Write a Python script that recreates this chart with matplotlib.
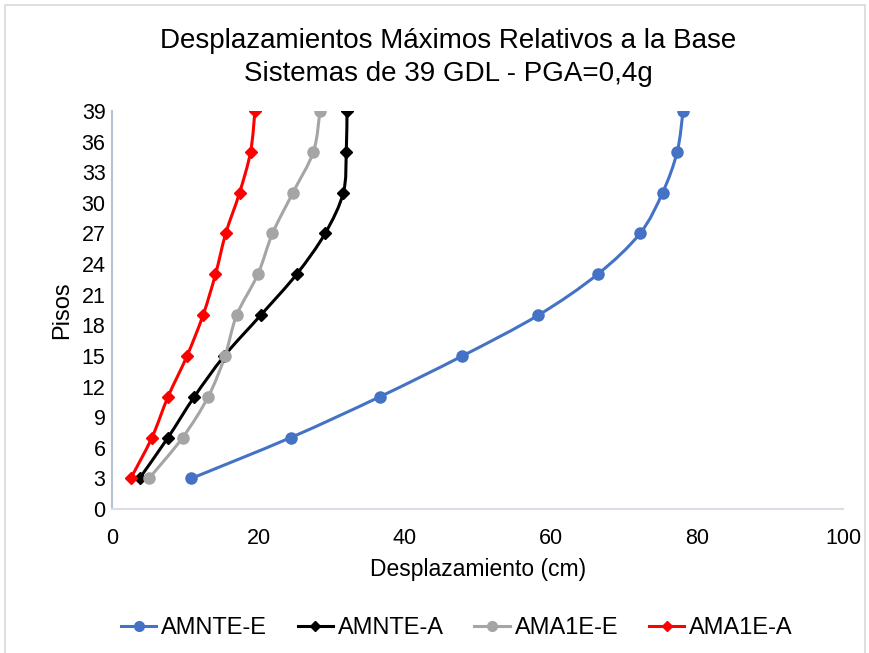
import matplotlib
matplotlib.use("Agg")
import matplotlib.pyplot as plt
from matplotlib.path import Path
from matplotlib.patches import PathPatch, Rectangle
from matplotlib.lines import Line2D

plt.rcParams['font.family'] = ['Liberation Sans', 'DejaVu Sans']

# datos
pisos = [3, 7, 11, 15, 19, 23, 27, 31, 35, 39]
amnte_e = [10.8, 24.4, 36.6, 47.9, 58.3, 66.4, 72.2, 75.3, 77.3, 78.1]
amnte_a = [3.7, 7.6, 11.2, 15.3, 20.3, 25.2, 29.1, 31.6, 32.0, 32.1]
ama1e_e = [5.0, 9.6, 13.1, 15.4, 17.0, 19.9, 21.9, 24.7, 27.5, 28.4]
ama1e_a = [2.5, 5.4, 7.6, 10.2, 12.4, 14.1, 15.5, 17.4, 18.9, 19.5]

nombres = ['AMNTE-E', 'AMNTE-A', 'AMA1E-E', 'AMA1E-A']
colores = ['#4472C4', '#000000', '#A5A5A5', '#FF0000']
marcadores = ['o', 'D', 'o', 'D']
y_ticks = list(range(0, 40, 3))
x_ticks = [0, 20, 40, 60, 80, 100]


def smooth_path(xs, ys):
    # linea suavizada tipo Excel (bezier cubica estilo Catmull-Rom)
    pts = list(zip(xs, ys))
    n = len(pts)
    verts = [pts[0]]
    codes = [Path.MOVETO]
    for i in range(n - 1):
        p0 = pts[i - 1] if i > 0 else pts[i]
        p1 = pts[i]
        p2 = pts[i + 1]
        p3 = pts[i + 2] if i + 2 < n else pts[i + 1]
        c1 = (p1[0] + (p2[0] - p0[0]) / 6, p1[1] + (p2[1] - p0[1]) / 6)
        c2 = (p2[0] - (p3[0] - p1[0]) / 6, p2[1] - (p3[1] - p1[1]) / 6)
        verts += [c1, c2, p2]
        codes += [Path.CURVE4] * 3
    return Path(verts, codes)


fig = plt.figure(figsize=(8.7, 6.53), dpi=100)
ax = fig.add_axes([0.1293, 0.2205, 0.8397, 0.6095])

series = [amnte_e, amnte_a, ama1e_e, ama1e_a]
handles = []
for vals, nombre, c, m in zip(series, nombres, colores, marcadores):
    ax.add_patch(PathPatch(smooth_path(vals, pisos), facecolor='none',
                           edgecolor=c, lw=2.2, zorder=3))
    ms = 8 if m == 'o' else 6.5
    ax.plot(vals, pisos, linestyle='none', marker=m, color=c, ms=ms, zorder=4)
    handles.append(Line2D([], [], color=c, lw=2.2, marker=m, ms=ms - 1))

ax.set_xlim(0, 100)
ax.set_ylim(0, 39)
ax.set_xticks(x_ticks)
ax.set_yticks(y_ticks)
ax.tick_params(length=0, labelsize=15.5, colors='#000000')
ax.tick_params(axis='x', pad=14)
ax.tick_params(axis='y', pad=5)

for s in ['top', 'right']:
    ax.spines[s].set_visible(False)
ax.spines['left'].set_color('#B4C2D4')
ax.spines['left'].set_linewidth(1.5)
ax.spines['bottom'].set_color('#D9DEE5')
ax.spines['bottom'].set_linewidth(1.5)

ax.set_xlabel('Desplazamiento (cm)', fontsize=16.5, labelpad=6)
ax.set_ylabel('Pisos', fontsize=17, labelpad=6)

fig.text(0.515, 0.937, 'Desplazamientos Máximos Relativos a la Base',
         ha='center', va='center', fontsize=20)
fig.text(0.515, 0.887, 'Sistemas de 39 GDL - PGA=0,4g',
         ha='center', va='center', fontsize=20)

fig.legend(handles, nombres, loc='center', bbox_to_anchor=(0.525, 0.038),
           ncol=4, frameon=False, fontsize=17, handlelength=1.5,
           handletextpad=0.2, columnspacing=1.3)

fig.patches.append(Rectangle((0.006, -0.01), 0.988, 1.002, transform=fig.transFigure,
                             fill=False, edgecolor='#D9D9D9', lw=1.2))

fig.savefig('out.png', dpi=100)
